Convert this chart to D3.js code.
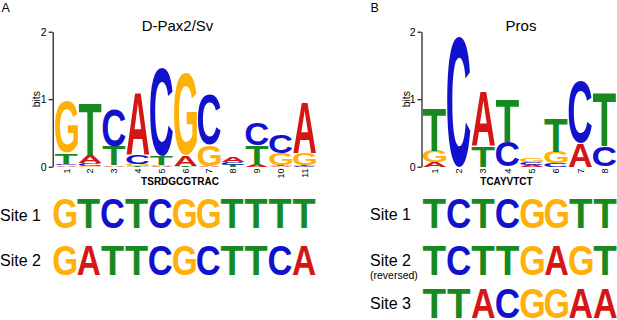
<!DOCTYPE html>
<html><head><meta charset="utf-8">
<script src="https://cdn.jsdelivr.net/npm/d3@7"></script>
<style>body{margin:0;background:#fff}svg{display:block}</style>
</head><body>
<svg id="c" width="617" height="320"></svg>
<script>
// ---- Data ----
const paxLabels = ["1","2","3","4","5","6","7","8","9","10","11"];
const paxA = [0.02,0.12,0.02,0.93,0.01,0.16,0.01,0.08,0.03,0.01,0.75];
const paxC = [0.02,0.04,0.54,0.14,1.31,0.00,0.74,0.04,0.32,0.27,0.01];
const paxG = [0.76,0.01,0.00,0.03,0.01,1.20,0.31,0.00,0.00,0.17,0.18];
const paxT = [0.16,0.77,0.28,0.01,0.13,0.01,0.00,0.03,0.29,0.02,0.01];
const paxTitle = "D-Pax2/Sv";
const paxConsensus = "TSRDGCGTRAC";

const prosLabels = ["1","2","3","4","5","6","7","8"];
const prosA = [0.07,0.00,0.80,0.00,0.03,0.00,0.35,0.00];
const prosC = [0.00,1.94,0.00,0.36,0.04,0.05,0.92,0.30];
const prosG = [0.17,0.00,0.00,0.00,0.05,0.17,0.00,0.00];
const prosT = [0.63,0.00,0.30,0.64,0.00,0.50,0.00,0.79];
const prosTitle = "Pros";
const prosConsensus = "TCAYVTCT";

const yTicks = [0, 1, 2];

const paxSiteNames = ["Site 1", "Site 2"];
const paxSites = ["GTCTCGGTTTT", "GATTCGCTTCA"];
const prosSiteNames = ["Site 1", "Site 2", "Site 3"];
const prosSites = ["TCTCGGTT", "TCTTGAGT", "TTACGGAA"];

// ---- Drawing ----
const colors = {A:"#d41616", C:"#1212cc", G:"#ffb10a", T:"#168a1e"};
const FAM = "'Liberation Sans', Arial, Helvetica, sans-serif";
const svg = d3.select("#c");

const ctx = document.createElement("canvas").getContext("2d");
ctx.font = "bold 100px " + FAM;
const metrics = {};
for (const ch of "ACGT") {
  const m = ctx.measureText(ch);
  metrics[ch] = {l:m.actualBoundingBoxLeft, r:m.actualBoundingBoxRight, a:m.actualBoundingBoxAscent, d:m.actualBoundingBoxDescent};
}
function glyph(g, ch, x, y, w, h) {
  const m = metrics[ch];
  const sx = w / (m.l + m.r), sy = h / (m.a + m.d);
  g.append("text")
    .attr("transform", `translate(${x + m.l * sx},${y + m.a * sy}) scale(${sx},${sy})`)
    .attr("font-family", FAM).attr("font-weight", "bold").attr("font-size", 100)
    .attr("fill", colors[ch]).text(ch);
}

function logo(cfg) {
  const g = svg.append("g");
  const x = d3.scaleBand().domain(cfg.labels).range(cfg.xr).paddingInner(0.04).paddingOuter(0.02);
  const y = d3.scaleLinear().domain([0, 2]).range([166.7, 31.7]);
  cfg.labels.forEach((lab, i) => {
    const stack = ["A","C","G","T"].map(b => ({b, v: cfg.data[b][i]}))
      .filter(d => d.v > 0).sort((a, b) => a.v - b.v);
    let acc = 0;
    stack.forEach(d => {
      const y0 = y(acc), y1 = y(acc + d.v);
      glyph(g, d.b, x(lab), y1, x.bandwidth(), y0 - y1);
      acc += d.v;
    });
  });
  const ax = g.append("g").attr("transform", `translate(${cfg.axisX},0)`)
    .call(d3.axisLeft(y).tickValues(yTicks).tickFormat(d3.format("d")).tickSize(4).tickSizeOuter(0).tickPadding(2));
  ax.selectAll("text").attr("font-family", FAM).attr("font-size", 10.5).attr("fill", "#000");
  ax.selectAll("line,path").attr("stroke", "#000").attr("stroke-width", 1.1);
  g.append("text").attr("transform", `translate(${cfg.bitsX},${y(1)}) rotate(-90)`)
    .attr("text-anchor", "middle").attr("dy", "0.35em")
    .attr("font-family", FAM).attr("font-size", 10.5).text("bits");
  cfg.labels.forEach(lab => {
    g.append("text").attr("transform", `translate(${x(lab) + x.bandwidth() / 2},168.5) rotate(-90)`)
      .attr("text-anchor", "end").attr("dy", "0.35em")
      .attr("font-family", FAM).attr("font-size", 9).text(lab);
  });
  g.append("text").attr("x", cfg.titleX).attr("y", 30.7).attr("text-anchor", "middle")
    .attr("font-family", FAM).attr("font-size", 15).text(cfg.title);
  g.append("text").attr("x", cfg.consX).attr("y", 184.5).attr("text-anchor", "middle")
    .attr("font-family", FAM).attr("font-weight", "bold").attr("font-size", 10).text(cfg.cons);
}

logo({labels: paxLabels, data: {A: paxA, C: paxC, G: paxG, T: paxT}, xr: [54.5, 316.5],
  axisX: 52.7, bitsX: 36.5, title: paxTitle, titleX: 177.5, cons: paxConsensus, consX: 180});
logo({labels: prosLabels, data: {A: prosA, C: prosC, G: prosG, T: prosT}, xr: [422.5, 616.8],
  axisX: 421.5, bitsX: 406.5, title: prosTitle, titleX: 521, cons: prosConsensus, consX: 506.5});

// panel letters
svg.append("text").attr("x", 1.5).attr("y", 12).attr("font-family", FAM).attr("font-size", 12.5).text("A");
svg.append("text").attr("x", 370.5).attr("y", 12).attr("font-family", FAM).attr("font-size", 12.5).text("B");

function sites(cfg) {
  const g = svg.append("g");
  cfg.seqs.forEach((seq, r) => {
    const chars = seq.split("");
    const x = d3.scaleBand().domain(d3.range(chars.length)).range(cfg.xr).paddingInner(0.05);
    chars.forEach((ch, i) => glyph(g, ch, x(i), cfg.rowTop[r], x.bandwidth(), cfg.rowH));
    g.append("text").attr("x", cfg.labelX).attr("y", cfg.labelY[r])
      .attr("font-family", FAM).attr("font-size", 16).text(cfg.names[r]);
  });
}
sites({seqs: paxSites, names: paxSiteNames, xr: [53.5, 315.5], rowTop: [198, 245], rowH: 30,
  labelX: 0, labelY: [221, 266]});
sites({seqs: prosSites, names: prosSiteNames, xr: [423, 616.8], rowTop: [198, 245, 288], rowH: 30,
  labelX: 370, labelY: [220, 266, 309]});
svg.append("text").attr("x", 370).attr("y", 278.5).attr("font-family", FAM).attr("font-size", 10.5).text("(reversed)");
</script>
</body></html>
